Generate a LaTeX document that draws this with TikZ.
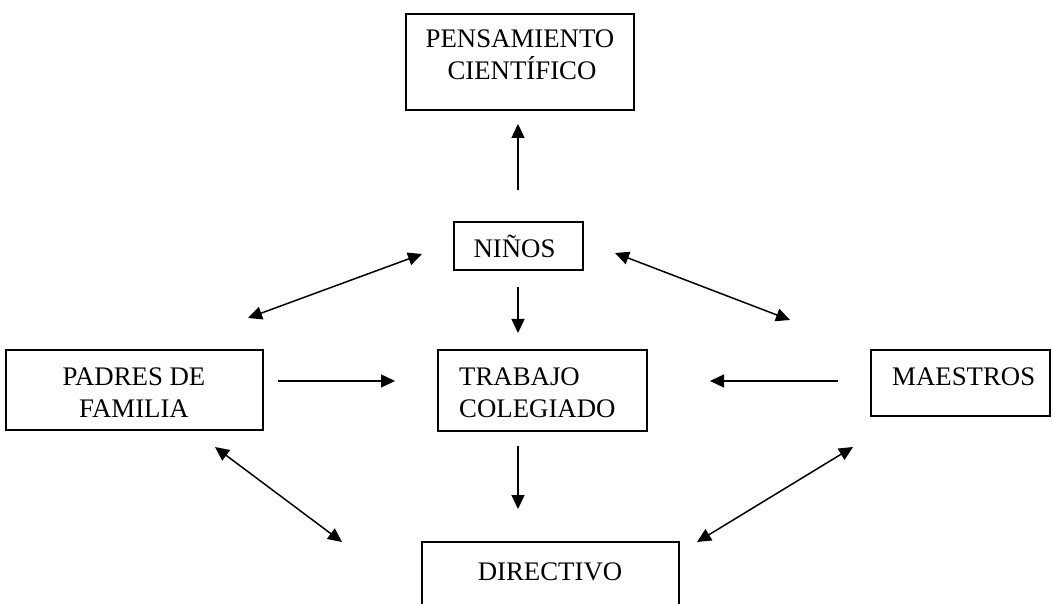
\documentclass[tikz,border=0pt]{standalone}
\usepackage{fontspec}
\setmainfont{Liberation Serif}
\usetikzlibrary{arrows.meta}
\tikzset{
  box/.style={draw, line width=1.5pt, rectangle, inner sep=0pt},
  txt/.style={inner sep=0pt, font=\fontsize{26.8}{32}\selectfont},
  conn/.style={line width=1.5pt, -{Triangle[length=14pt,width=13pt]}},
  dconn/.style={line width=1.5pt, {Triangle[length=14pt,width=13pt]}-{Triangle[length=14pt,width=13pt]}}
}
\begin{document}
\begin{tikzpicture}[x=1pt,y=-1pt]
\clip (0,0) rectangle (1053,604);
\fill[white] (0,0) rectangle (1053,604);
% boxes
\node[box, minimum width=228pt, minimum height=96pt] (pens) at (520,62) {};
\node[box, minimum width=129pt, minimum height=48pt] (ninos) at (518.5,246) {};
\node[box, minimum width=257pt, minimum height=80pt] (padres) at (134.5,390) {};
\node[box, minimum width=209pt, minimum height=81pt] (trabajo) at (542.5,390.5) {};
\node[box, minimum width=179pt, minimum height=66pt] (maestros) at (960.5,383) {};
\node[box, minimum width=257pt, minimum height=100pt] (directivo) at (550.5,592) {};
% texts
\node[txt, anchor=base] (pens-t1) at (520,48) {PENSAMIENTO};
\node[txt, anchor=base] (pens-t2) at (522,80) {CIENTÍFICO};
\node[txt, anchor=base] (ninos-t) at (514.5,258) {NIÑOS};
\node[txt, anchor=base] (padres-t1) at (134,385) {PADRES DE};
\node[txt, anchor=base] (padres-t2) at (134,417) {FAMILIA};
\node[txt, anchor=base west] (trabajo-t1) at (459,385) {TRABAJO};
\node[txt, anchor=base west] (trabajo-t2) at (459,417) {COLEGIADO};
\node[txt, anchor=base west] (maestros-t) at (892,385) {MAESTROS};
\node[txt, anchor=base] (directivo-t) at (550,580) {DIRECTIVO};
% arrow end points
\coordinate (a1s) at (518,190); \coordinate (a1e) at (518,124);
\coordinate (a2s) at (518,287); \coordinate (a2e) at (518,333);
\coordinate (a3s) at (518,446); \coordinate (a3e) at (518,509);
\coordinate (a4s) at (278,381); \coordinate (a4e) at (395,381);
\coordinate (a5s) at (838,381); \coordinate (a5e) at (710,381);
\coordinate (d1a) at (248,318); \coordinate (d1b) at (422,254);
\coordinate (d2a) at (615,253); \coordinate (d2b) at (790,320);
\coordinate (d3a) at (215,447); \coordinate (d3b) at (342,542);
\coordinate (d4a) at (697,542); \coordinate (d4b) at (853,447);
% connectors
\draw[conn] (a1s) -- (a1e);
\draw[conn] (a2s) -- (a2e);
\draw[conn] (a3s) -- (a3e);
\draw[conn] (a4s) -- (a4e);
\draw[conn] (a5s) -- (a5e);
\draw[dconn] (d1a) -- (d1b);
\draw[dconn] (d2a) -- (d2b);
\draw[dconn] (d3a) -- (d3b);
\draw[dconn] (d4a) -- (d4b);
\end{tikzpicture}
\end{document}
